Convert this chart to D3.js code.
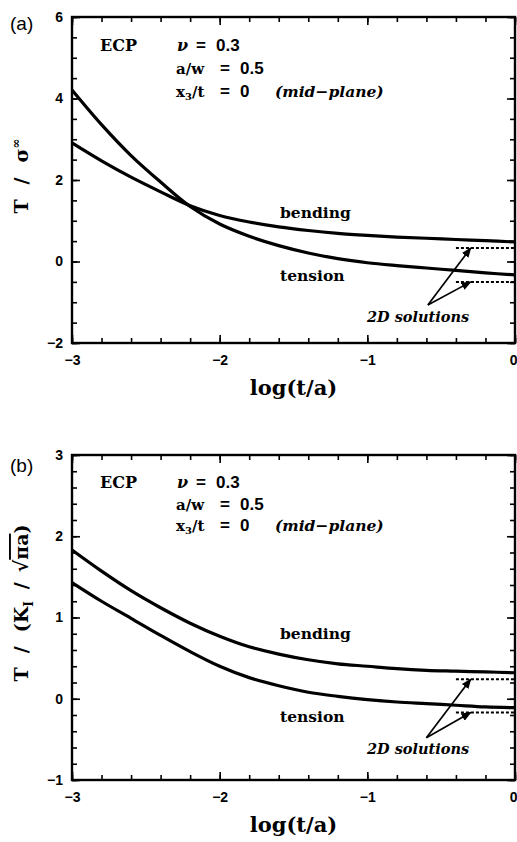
<!DOCTYPE html>
<html>
<head>
<meta charset="utf-8">
<script src="https://cdn.jsdelivr.net/npm/d3@7"></script>
<style>
  html, body { margin: 0; padding: 0; background: #fff; }
  svg { display: block; }
</style>
</head>
<body>
<div id="chart"></div>
<script>
// x values: log(t/a)
const logTA = [-3, -2.8, -2.6, -2.4, -2.2, -2, -1.8, -1.6, -1.4, -1.2, -1, -0.8, -0.6, -0.4, -0.2, 0];

// (a) T / sigma_inf
const aBending = [2.91, 2.47, 2.07, 1.71, 1.37, 1.13, 0.97, 0.85, 0.76, 0.69, 0.64, 0.6, 0.57, 0.54, 0.51, 0.48];
const aTension = [4.21, 3.36, 2.6, 1.95, 1.35, 0.92, 0.62, 0.39, 0.21, 0.07, -0.03, -0.1, -0.16, -0.22, -0.28, -0.33];
const a2D = [0.33, -0.5];

// (b) T / (K_I / sqrt(pi a))
const bBending = [1.83, 1.57, 1.33, 1.12, 0.93, 0.77, 0.64, 0.55, 0.48, 0.43, 0.4, 0.37, 0.35, 0.34, 0.33, 0.32];
const bTension = [1.43, 1.2, 0.99, 0.78, 0.58, 0.4, 0.26, 0.16, 0.08, 0.03, -0.01, -0.04, -0.06, -0.08, -0.1, -0.11];
const b2D = [0.24, -0.17];

// ticks
const xTicks = [-3, -2, -1, 0];
const aYTicks = [-2, 0, 2, 4, 6];
const bYTicks = [-1, 0, 1, 2, 3];

const width = 517, height = 842;
const left = 72, right = 515;

const svg = d3.select("#chart").append("svg")
  .attr("width", width).attr("height", height);

const serif = "'DejaVu Serif', serif";
const sans = "'Liberation Sans', Arial, sans-serif";

function drawPanel(p) {
  const x = d3.scaleLinear().domain([-3, 0]).range([left, right]);
  const y = d3.scaleLinear().domain(p.yDomain).range([p.bottom, p.top]);
  const g = svg.append("g");

  // minor ticks
  const xMinor = d3.range(-3, 0.001, 0.2).map(v => +v.toFixed(2));
  const yMinor = d3.range(p.yDomain[0], p.yDomain[1] + 0.001, p.yMinorStep).map(v => +v.toFixed(2));

  const tickStyle = sel => {
    sel.select(".domain").remove();
    sel.selectAll("line").attr("stroke", "#000").attr("stroke-width", 1.6);
  };

  g.append("g").attr("transform", `translate(0,${p.bottom})`)
    .call(d3.axisBottom(x).tickValues(xMinor).tickSize(-5).tickFormat("")).call(tickStyle);
  g.append("g").attr("transform", `translate(0,${p.top})`)
    .call(d3.axisTop(x).tickValues(xMinor).tickSize(-5).tickFormat("")).call(tickStyle);
  g.append("g").attr("transform", `translate(${left},0)`)
    .call(d3.axisLeft(y).tickValues(yMinor).tickSize(-5).tickFormat("")).call(tickStyle);
  g.append("g").attr("transform", `translate(${right},0)`)
    .call(d3.axisRight(y).tickValues(yMinor).tickSize(-5).tickFormat("")).call(tickStyle);

  // major ticks + labels
  const fmt = d => d < 0 ? "\u2212" + Math.abs(d) : d;
  const labelStyle = sel => {
    tickStyle(sel);
    sel.selectAll("text").attr("fill", "#000")
      .style("font-family", sans).style("font-weight", "bold").style("font-size", "14px");
  };
  const xAx = g.append("g").attr("transform", `translate(0,${p.bottom})`)
    .call(d3.axisBottom(x).tickValues(xTicks).tickSizeInner(-8).tickSizeOuter(0)
      .tickPadding(12).tickFormat(fmt)).call(labelStyle);
  // last label sits on the page edge
  xAx.selectAll("text").filter(d => d === 0).attr("text-anchor", "end").attr("x", 2);
  g.append("g").attr("transform", `translate(0,${p.top})`)
    .call(d3.axisTop(x).tickValues(xTicks).tickSizeInner(-8).tickSizeOuter(0).tickFormat("")).call(tickStyle);
  g.append("g").attr("transform", `translate(${left},0)`)
    .call(d3.axisLeft(y).tickValues(p.yTicks).tickSizeInner(-8).tickSizeOuter(0)
      .tickPadding(9).tickFormat(fmt)).call(labelStyle);
  g.append("g").attr("transform", `translate(${right},0)`)
    .call(d3.axisRight(y).tickValues(p.yTicks).tickSizeInner(-8).tickSizeOuter(0).tickFormat("")).call(tickStyle);

  // frame
  g.append("rect")
    .attr("x", left).attr("y", p.top)
    .attr("width", right - left).attr("height", p.bottom - p.top)
    .attr("fill", "none").attr("stroke", "#000").attr("stroke-width", 2.4);

  // curves
  const line = d3.line()
    .x((d, i) => x(logTA[i]))
    .y(d => y(d))
    .curve(d3.curveCatmullRom.alpha(0.5));
  [p.bending, p.tension].forEach(s => {
    g.append("path").datum(s)
      .attr("d", line)
      .attr("fill", "none").attr("stroke", "#000").attr("stroke-width", 3.2)
      .attr("stroke-linejoin", "round");
  });

  // 2D solutions (dashed) + arrows
  p.sol2D.forEach(v => {
    g.append("line")
      .attr("x1", x(-0.4)).attr("x2", x(0))
      .attr("y1", y(v)).attr("y2", y(v))
      .attr("stroke", "#000").attr("stroke-width", 2)
      .attr("stroke-dasharray", "3,2");
    g.append("line")
      .attr("x1", x(p.arrowTail[0])).attr("y1", y(p.arrowTail[1]))
      .attr("x2", x(-0.3)).attr("y2", y(v))
      .attr("stroke", "#000").attr("stroke-width", 1.7)
      .attr("marker-end", "url(#arrow)");
  });

  // text annotations
  const t = (xx, yy, txt, opts = {}) => g.append("text")
    .attr("x", xx).attr("y", yy)
    .style("font-family", opts.family || serif)
    .style("font-weight", "bold")
    .style("font-style", opts.italic ? "italic" : "normal")
    .style("font-size", (opts.size || 16) + "px")
    .text(txt);

  t(10, p.top + p.tagDy, p.tag, { family: sans, size: 19 }).style("font-weight", "normal");
  t(100, p.top + p.line1, "ECP", { size: 16 });

  // parameter block: symbol, "=", value at fixed columns
  const param = (yy, sym, val, shift) => {
    const tx = g.append("text").attr("y", yy)
      .style("font-weight", "bold").style("font-size", "16px");
    sym(tx);
    tx.append("tspan").attr("x", 196 + shift).style("font-family", sans).style("font-size", "17px")
      .text("=");
    tx.append("tspan").attr("x", 216 + shift).style("font-family", sans).style("font-size", "17px")
      .text(val);
  };
  param(p.top + p.line1, s => s.append("tspan").attr("x", 177)
    .style("font-family", serif).style("font-style", "italic").text("\u03BD"), "0.3", 0);
  param(p.top + p.line2, s => s.append("tspan").attr("x", 176)
    .style("font-family", serif).style("font-size", "15px").text("a/w"), "0.5", 24);
  param(p.top + p.line3, s => {
    s.append("tspan").attr("x", 176).style("font-family", serif).style("font-size", "15px").text("x");
    s.append("tspan").style("font-family", serif).style("font-size", "10px").attr("dy", 3).text("3");
    s.append("tspan").style("font-family", serif).style("font-size", "15px").attr("dy", -3).text("/t");
  }, "0", 24);
  t(275, p.top + p.line3, "(mid\u2212plane)", { italic: true, size: 15.5 });

  t(280, y(p.bendLabel), "bending", { size: 15.5 });
  t(280, y(p.tensLabel), "tension", { size: 15.5 });
  t(367, y(p.solLabel), "2D solutions", { italic: true, size: 14.5 });

  // axis titles
  t((left + right) / 2, p.bottom + 52, "log(t/a)", { size: 21 }).attr("text-anchor", "middle");

  const yt = g.append("text")
    .attr("transform", `translate(${p.yTitleX},${p.yTitleY}) rotate(-90)`)
    .attr("text-anchor", "middle")
    .style("font-family", serif).style("font-weight", "bold").style("font-size", "19px");
  p.yTitle(yt);
}

svg.append("defs").append("marker")
  .attr("id", "arrow").attr("viewBox", "0 0 10 10")
  .attr("refX", 9).attr("refY", 5)
  .attr("markerWidth", 6).attr("markerHeight", 6)
  .attr("orient", "auto")
  .append("path").attr("d", "M0,1 L10,5 L0,9 Z").attr("fill", "#000");

drawPanel({
  tag: "(a)", tagDy: 13, top: 17, bottom: 343, yDomain: [-2, 6], yTicks: aYTicks, yMinorStep: 0.5,
  bending: aBending, tension: aTension, sol2D: a2D, arrowTail: [-0.59, -1.07],
  line1: 34, line2: 57, line3: 80,
  bendLabel: 1.07, tensLabel: -0.48, solLabel: -1.48,
  yTitleX: 28, yTitleY: 176,
  yTitle: sel => {
    sel.append("tspan").text("T");
    sel.append("tspan").attr("dx", 15).text("/");
    sel.append("tspan").attr("dx", 15).text("\u03C3");
    sel.append("tspan").attr("dy", -8).style("font-size", "12px").text("\u221E");
  }
});

drawPanel({
  tag: "(b)", tagDy: 17, top: 455, bottom: 780, yDomain: [-1, 3], yTicks: bYTicks, yMinorStep: 0.2,
  bending: bBending, tension: bTension, sol2D: b2D, arrowTail: [-0.6, -0.48],
  line1: 33, line2: 55, line3: 76,
  bendLabel: 0.74, tensLabel: -0.28, solLabel: -0.68,
  yTitleX: 28, yTitleY: 603,
  yTitle: sel => {
    sel.append("tspan").text("T");
    sel.append("tspan").attr("dx", 14).text("/");
    sel.append("tspan").attr("dx", 14).text("(K");
    sel.append("tspan").attr("dy", 5).style("font-size", "12px").text("I");
    sel.append("tspan").attr("dy", -5).attr("dx", 12).text("/");
    sel.append("tspan").attr("dx", 10).text("\u221A");
    sel.append("tspan").style("text-decoration", "overline").text("\u03C0a");
    sel.append("tspan").text(")");
  }
});
</script>
</body>
</html>
